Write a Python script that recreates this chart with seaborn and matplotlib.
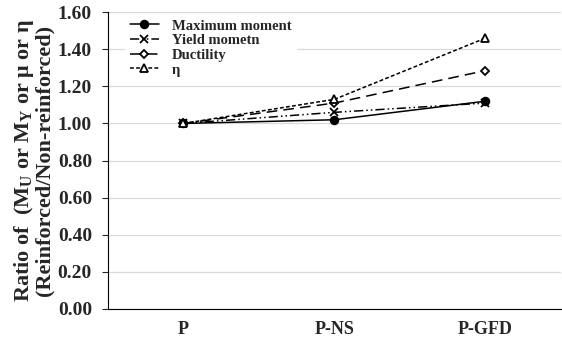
import matplotlib
matplotlib.use("Agg")
import matplotlib.pyplot as plt
import pandas as pd
import seaborn as sns

specimens = ["P", "P-NS", "P-GFD"]
max_moment = [1.00, 1.02, 1.12]
yield_moment = [1.00, 1.06, 1.11]
ductility = [1.00, 1.11, 1.285]
eta = [1.00, 1.13, 1.46]

labels = ["Maximum moment", "Yield mometn", "Ductility", "\u03b7"]

sns.set_style("white")
plt.rcParams["font.family"] = ["Liberation Serif", "DejaVu Serif"]
plt.rcParams["font.weight"] = "bold"
plt.rcParams["mathtext.fontset"] = "custom"
plt.rcParams["mathtext.rm"] = "Liberation Serif:bold"
plt.rcParams["mathtext.it"] = "Liberation Serif:bold"

fig = plt.figure(figsize=(5.62, 3.42), dpi=100)
ax = fig.add_axes([0.192, 0.0965, 0.806, 0.868])

styles = [
    dict(marker="o", ms=5.5, mfc="black", dashes=None),
    dict(marker="x", ms=5.5, mfc="black", dashes=(6, 2, 1, 2, 1, 2)),
    dict(marker="D", ms=4.5, mfc="white", dashes=(7, 4)),
    dict(marker="^", ms=5.5, mfc="white", dashes=(2.5, 1.5)),
]
series = [max_moment, yield_moment, ductility, eta]
x = list(range(len(specimens)))

for vals, lab, st in zip(series, labels, styles):
    df = pd.DataFrame({"x": x, "y": vals})
    sns.lineplot(data=df, x="x", y="y", ax=ax, color="black", lw=1.1,
                 marker=st["marker"], markersize=st["ms"],
                 markerfacecolor=st["mfc"], markeredgecolor="black",
                 markeredgewidth=1.3, label=lab)
    if st["dashes"] is not None:
        ax.get_lines()[-1].set_dashes(st["dashes"])

ax.set_xlim(-0.5, 2.5)
ax.set_ylim(0, 1.6)
ax.set_yticks([i * 0.2 for i in range(9)])
ax.set_yticklabels([f"{i * 0.2:.2f}" for i in range(9)], fontsize=14, fontweight="bold")
ax.set_xticks(x)
ax.set_xticklabels(specimens, fontsize=13, fontweight="bold")
ax.set_xticks([-0.5, 0.5, 1.5, 2.5], minor=True)
ax.tick_params(axis="x", which="major", length=0, pad=9)
ax.tick_params(axis="x", which="minor", length=4, width=0.8, direction="out")
ax.tick_params(axis="y", length=4.5, width=0.8, direction="out", left=True, pad=7)

ax.yaxis.grid(True, color="#d9d9d9", lw=0.9)
ax.set_axisbelow(True)
for side in ["top", "right"]:
    ax.spines[side].set_visible(False)
for side in ["left", "bottom"]:
    ax.spines[side].set_color("black")
    ax.spines[side].set_linewidth(0.8)

ax.set_xlabel("")
ax.set_ylabel("Ratio of  (M$_\\mathrm{U}$ or M$_\\mathrm{Y}$ or \u03bc or \u03b7\n(Reinforced/Non-reinforced)",
              fontsize=16, fontweight="bold", labelpad=2, linespacing=0.95)

ax.legend(loc="upper left", bbox_to_anchor=(0.022, 1.015), frameon=True,
          fancybox=False, edgecolor="white", facecolor="white", framealpha=1,
          prop={"size": 10.5, "weight": "bold"}, handlelength=2.0,
          labelspacing=0.1, borderpad=0.3, handletextpad=0.9)

fig.savefig("out.png", dpi=100)
